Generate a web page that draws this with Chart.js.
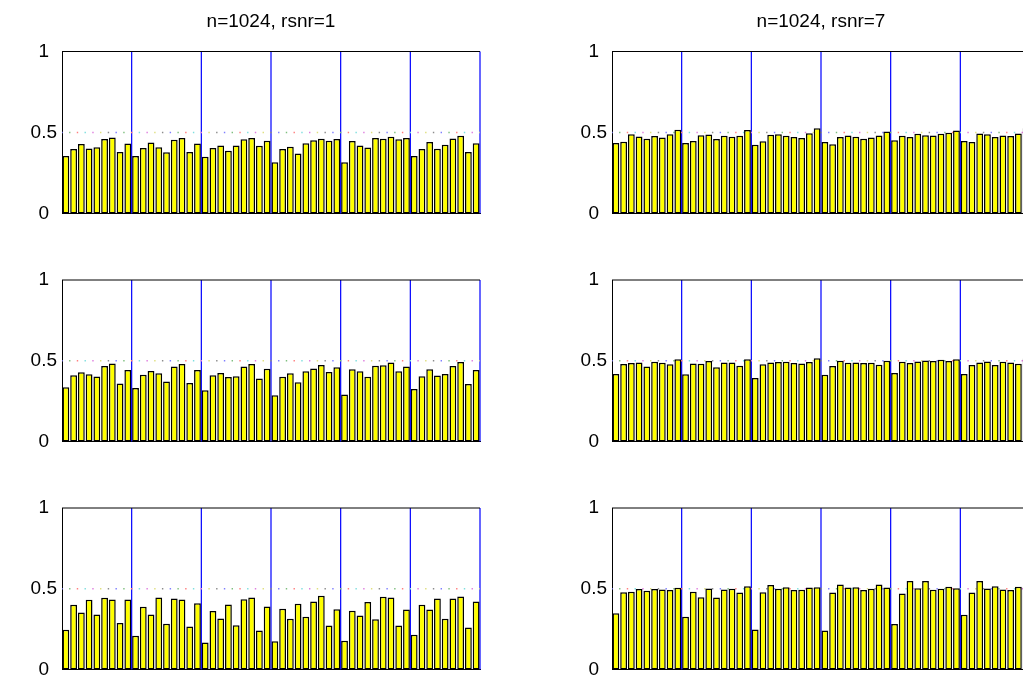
<!DOCTYPE html>
<html>
<head>
<meta charset="utf-8">
<script src="https://cdn.jsdelivr.net/npm/chart.js@4/dist/chart.umd.min.js"></script>
<style>
  html, body { margin: 0; padding: 0; background: #fff; overflow: hidden; width: 1023px; height: 685px; }
  .panel { position: absolute; }
</style>
</head>
<body>
<div class="panel" style="left:0px;   top:0px;   width:484px; height:230px;"><canvas id="c-l1"></canvas></div>
<div class="panel" style="left:550px; top:0px;   width:484px; height:230px;"><canvas id="c-r1"></canvas></div>
<div class="panel" style="left:0px;   top:260px; width:484px; height:198px;"><canvas id="c-l2"></canvas></div>
<div class="panel" style="left:550px; top:260px; width:484px; height:198px;"><canvas id="c-r2"></canvas></div>
<div class="panel" style="left:0px;   top:488px; width:484px; height:198px;"><canvas id="c-l3"></canvas></div>
<div class="panel" style="left:550px; top:488px; width:484px; height:198px;"><canvas id="c-r3"></canvas></div>
<script>
// ------------------------------------------------------------
// Data (6 groups of 9 bars per panel)
// ------------------------------------------------------------
const titles = ['n=1024, rsnr=1', 'n=1024, rsnr=7'];
const yTicks = [0, 0.5, 1];
const refLevel = 0.5;
const groupSize = 9;
const groupCount = 6;
// MATLAB colour order b g r c m y k, pale as the dots look
const dotColors = ['#7f7fff', '#7fbf7f', '#ff7f7f', '#7fdfdf', '#df7fdf', '#dfdf7f', '#8c8c8c'];

const left1 = [
  0.355, 0.398, 0.430, 0.402, 0.410, 0.460, 0.470, 0.380, 0.432,
  0.355, 0.404, 0.438, 0.410, 0.378, 0.456, 0.466, 0.380, 0.432,
  0.350, 0.404, 0.420, 0.388, 0.420, 0.458, 0.466, 0.418, 0.450,
  0.317, 0.398, 0.412, 0.371, 0.434, 0.452, 0.462, 0.450, 0.460,
  0.317, 0.448, 0.420, 0.408, 0.466, 0.462, 0.474, 0.458, 0.466,
  0.355, 0.398, 0.442, 0.400, 0.424, 0.464, 0.480, 0.380, 0.434
];
const right1 = [
  0.436, 0.444, 0.490, 0.476, 0.462, 0.478, 0.470, 0.490, 0.518,
  0.436, 0.448, 0.484, 0.488, 0.460, 0.480, 0.474, 0.480, 0.516,
  0.424, 0.446, 0.486, 0.490, 0.480, 0.472, 0.466, 0.496, 0.526,
  0.442, 0.428, 0.472, 0.482, 0.474, 0.462, 0.470, 0.482, 0.506,
  0.452, 0.480, 0.472, 0.492, 0.484, 0.482, 0.492, 0.498, 0.512,
  0.448, 0.442, 0.494, 0.490, 0.472, 0.482, 0.478, 0.494, 0.526
];
const left2 = [
  0.336, 0.411, 0.429, 0.417, 0.403, 0.468, 0.484, 0.360, 0.443,
  0.332, 0.413, 0.437, 0.423, 0.372, 0.464, 0.480, 0.362, 0.443,
  0.318, 0.411, 0.425, 0.399, 0.405, 0.464, 0.480, 0.391, 0.451,
  0.287, 0.401, 0.423, 0.368, 0.435, 0.453, 0.474, 0.431, 0.460,
  0.291, 0.447, 0.435, 0.401, 0.470, 0.472, 0.490, 0.435, 0.464,
  0.326, 0.405, 0.447, 0.409, 0.419, 0.468, 0.492, 0.356, 0.443
];
const right2 = [
  0.419, 0.480, 0.486, 0.490, 0.464, 0.494, 0.488, 0.478, 0.510,
  0.417, 0.484, 0.482, 0.498, 0.460, 0.490, 0.490, 0.470, 0.510,
  0.393, 0.478, 0.490, 0.492, 0.494, 0.486, 0.484, 0.492, 0.516,
  0.413, 0.468, 0.500, 0.488, 0.490, 0.486, 0.488, 0.476, 0.500,
  0.425, 0.494, 0.486, 0.496, 0.502, 0.498, 0.506, 0.498, 0.510,
  0.419, 0.474, 0.490, 0.496, 0.474, 0.494, 0.490, 0.482, 0.514
];
const left3 = [
  0.246, 0.401, 0.354, 0.432, 0.341, 0.444, 0.434, 0.288, 0.434,
  0.209, 0.389, 0.341, 0.446, 0.284, 0.440, 0.434, 0.267, 0.411,
  0.168, 0.362, 0.316, 0.403, 0.275, 0.436, 0.446, 0.242, 0.391,
  0.176, 0.376, 0.314, 0.407, 0.327, 0.422, 0.457, 0.273, 0.374,
  0.178, 0.364, 0.335, 0.418, 0.312, 0.451, 0.446, 0.273, 0.372,
  0.215, 0.401, 0.372, 0.440, 0.314, 0.440, 0.453, 0.261, 0.422
];
const right3 = [
  0.349, 0.479, 0.481, 0.498, 0.488, 0.498, 0.496, 0.492, 0.506,
  0.327, 0.481, 0.448, 0.502, 0.446, 0.496, 0.500, 0.477, 0.516,
  0.248, 0.479, 0.523, 0.500, 0.510, 0.492, 0.494, 0.508, 0.510,
  0.242, 0.477, 0.527, 0.508, 0.510, 0.492, 0.500, 0.527, 0.508,
  0.282, 0.471, 0.549, 0.504, 0.549, 0.494, 0.500, 0.512, 0.504,
  0.339, 0.477, 0.549, 0.502, 0.516, 0.496, 0.492, 0.512, 0.510
];

// ------------------------------------------------------------
// Helpers
// ------------------------------------------------------------
const FONT = "'Liberation Sans', Arial, Helvetica, sans-serif";
const nBars = groupSize * groupCount;
const dividers = [];
for (let g = 1; g <= groupCount; g++) dividers.push(g * groupSize + 0.5);

// blue group dividers (under the bars), placed with the x scale
const groupLines = {
  id: 'groupLines',
  beforeDatasetsDraw(chart) {
    const { ctx, chartArea: a, scales: { x } } = chart;
    ctx.save();
    ctx.strokeStyle = '#0000ff';
    ctx.lineWidth = 1.2;
    ctx.beginPath();
    for (const v of dividers) {
      const px = x.getPixelForValue(v);
      ctx.moveTo(px, a.top);
      ctx.lineTo(px, a.bottom);
    }
    ctx.stroke();
    ctx.restore();
  }
};

// top edge of the box + title centred over the plot area
const boxTop = {
  id: 'boxTop',
  afterDraw(chart, args, opts) {
    const { ctx, chartArea: a } = chart;
    ctx.save();
    ctx.strokeStyle = '#000';
    ctx.lineWidth = 1;
    ctx.beginPath();
    ctx.moveTo(a.left, a.top);
    ctx.lineTo(a.right, a.top);
    ctx.stroke();
    if (opts.text) {
      ctx.fillStyle = '#000';
      ctx.font = '19px ' + FONT;
      ctx.textAlign = 'center';
      ctx.textBaseline = 'middle';
      ctx.fillText(opts.text, (a.left + a.right) / 2, 22);
    }
    ctx.restore();
  }
};

function makePanel(id, values, title) {
  const bars = values.map((v, i) => ({ x: i + 1, y: v }));
  const dots = [];
  const dotCol = [];
  for (let k = 0; k <= nBars; k++) {
    dots.push({ x: k + 0.5, y: refLevel });
    dotCol.push(dotColors[k % dotColors.length]);
  }

  return new Chart(document.getElementById(id), {
    type: 'bar',
    data: {
      datasets: [
        {
          type: 'bar', data: bars, order: 1,
          backgroundColor: '#ffff00', borderColor: '#000', borderWidth: 1.5,
          barPercentage: 0.88, categoryPercentage: 1, borderSkipped: false
        },
        {
          type: 'line', data: dots, order: 2, showLine: false,
          pointStyle: 'rect', pointRadius: 1, pointBorderWidth: 0,
          pointBackgroundColor: dotCol
        }
      ]
    },
    options: {
      responsive: true,
      maintainAspectRatio: false,
      animation: false,
      events: [],
      layout: { padding: { top: title ? 51.5 : 20, bottom: 14, left: 0, right: 3 } },
      plugins: {
        legend: { display: false },
        tooltip: { enabled: false },
        title: { display: false },
        boxTop: { text: title || '' }
      },
      scales: {
        x: {
          type: 'linear', min: 0.5, max: nBars + 0.5, offset: false,
          ticks: { display: false },
          grid: { display: false, drawTicks: false, offset: false },
          border: { display: true, color: '#000', width: 1 }
        },
        y: {
          min: 0, max: 1,
          afterBuildTicks: s => { s.ticks = yTicks.map(v => ({ value: v })); },
          afterFit: s => { s.width = 62; },
          ticks: {
            color: '#000', padding: 5, crossAlign: 'center',
            font: { family: FONT, size: 19 },
            callback: v => String(v)
          },
          grid: { display: false, drawTicks: false },
          border: { display: true, color: '#000', width: 1 }
        }
      }
    },
    plugins: [groupLines, boxTop]
  });
}

makePanel('c-l1', left1, titles[0]);
makePanel('c-r1', right1, titles[1]);
makePanel('c-l2', left2);
makePanel('c-r2', right2);
makePanel('c-l3', left3);
makePanel('c-r3', right3);
</script>
</body>
</html>
